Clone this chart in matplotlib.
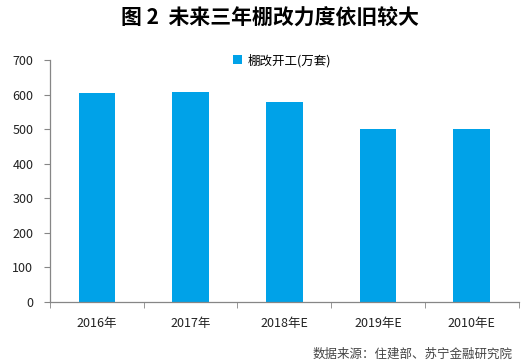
import matplotlib
matplotlib.use('Agg')
import matplotlib.pyplot as plt
import numpy as np

plt.rcParams['font.family'] = ['Noto Sans CJK SC', 'DejaVu Sans']

categories = ['2016年', '2017年', '2018年E', '2019年E', '2010年E']
starts = [606, 609, 580, 500, 500]
series_name = '棚改开工(万套)'
bar_color = '#00A2E8'
axis_color = '#868686'

fig = plt.figure(figsize=(5.26, 3.62), dpi=100)
ax = fig.add_axes([0.095, 0.1666, 0.891, 0.6668])

x = np.arange(len(categories))
ax.bar(x, starts, width=0.39, color=bar_color, label=series_name)

ax.set_xlim(-0.5, len(categories) - 0.5)
ax.set_ylim(0, 700)
ax.set_yticks(range(0, 701, 100))
ax.set_xticks(x)
ax.set_xticklabels(categories)
ax.set_xticks(np.arange(-0.5, len(categories), 1), minor=True)

for s in ['top', 'right']:
    ax.spines[s].set_visible(False)
for s in ['left', 'bottom']:
    ax.spines[s].set_color(axis_color)
    ax.spines[s].set_linewidth(0.9)

ax.tick_params(axis='y', length=4, color=axis_color, labelsize=9, pad=8, labelcolor='#222222')
ax.tick_params(axis='x', which='major', length=0, labelsize=9, pad=11, labelcolor='#222222')
ax.tick_params(axis='x', which='minor', length=4, color=axis_color)

ax.legend(loc='center', bbox_to_anchor=(0.495, 1.0), frameon=False, fontsize=9,
          handlelength=0.7, handleheight=0.7, handletextpad=0.4)

fig.text(0.513, 0.95, '图 2  未来三年棚改力度依旧较大', ha='center', va='center',
         fontsize=15, fontweight='bold')
fig.text(0.975, 0.022, '数据来源：住建部、苏宁金融研究院', ha='right', va='center',
         fontsize=9, style='italic', color='#444444')

fig.savefig('out.png', dpi=100)
